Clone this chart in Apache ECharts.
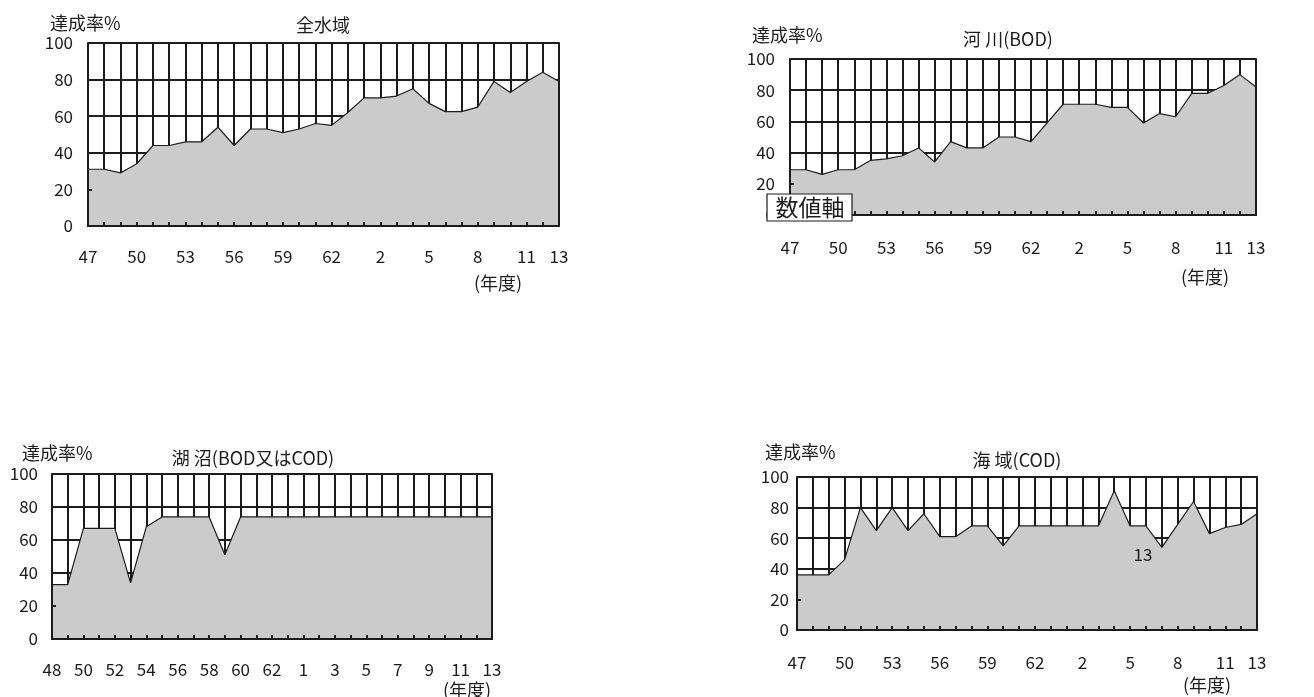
<!DOCTYPE html>
<html><head><meta charset="utf-8">
<script src="https://cdn.jsdelivr.net/npm/echarts@6/dist/echarts.min.js"></script>
<style>html,body{margin:0;padding:0;background:#fff;}#c{width:1314px;height:697px;}</style>
</head><body><div id="c"></div>
<script>
// Categories (fiscal years: Showa 47..63, Heisei 1..13)
const yearsFrom47 = ['47','48','49','50','51','52','53','54','55','56','57','58','59','60','61','62','63','1','2','3','4','5','6','7','8','9','10','11','12','13'];
const yearsFrom48 = ['48','49','50','51','52','53','54','55','56','57','58','59','60','61','62','63','1','2','3','4','5','6','7','8','9','10','11','12','13'];
// Achievement rate (%)
const allWaters = [31,31,29,34,44,44,46,46,54,44,53,53,51,53,56,55,62,70,70,71,75,67,62.5,62.5,65,79,73,79,84,79];
const rivers    = [29,29,26,29,29,35,36,38,43,34,47,43,43,50,50,47,59,71,71,71,69,69,59,65,63,78,78,83,90,82];
const lakes     = [33,33,67,67,67,34,68,74,74,74,74,51,74,74,74,74,74,74,74,74,74,74,74,74,74,74,74,74,74];
const sea       = [36,36,36,46,80,65,80,65,76,61,61,68,68,55,68,68,68,68,68,68,91,68,68,54,69,84,63,67,69,76];
const yTicks = [0,20,40,60,80,100];
const titles = ['全水域','河 川(BOD)','湖 沼(BOD又はCOD)','海 域(COD)'];

const INK = '#1c1c1c';
const FONT = '"Noto Sans CJK JP", "Noto Sans", sans-serif';
const panels = [
  {cats: yearsFrom47, data: allWaters, grid:{left:88, top:43, width:471, height:183}, step:3, xm:22, ym:15,
   unit:[50,23], title:[323,25], nendo:[498,283]},
  {cats: yearsFrom47, data: rivers, grid:{left:790, top:59, width:466, height:156}, step:3, xm:24, ym:15,
   unit:[752,35], title:[1008,39], nendo:[1205,277]},
  {cats: yearsFrom48, data: lakes, grid:{left:52, top:474, width:440, height:165}, step:2, xm:22, ym:14,
   unit:[22,453], title:[253,458], nendo:[467,690]},
  {cats: yearsFrom47, data: sea, grid:{left:797, top:477, width:460, height:153}, step:3, xm:24, ym:8,
   unit:[765,452], title:[1017,460], nendo:[1207,685]}
];

const grid=[], xAxis=[], yAxis=[], series=[], graphic=[];
panels.forEach((p,i)=>{
  grid.push(Object.assign({containLabel:false}, p.grid));
  const last = p.cats.length-1;
  // grid lines (below the area)
  xAxis.push({type:'category', gridIndex:i, position:'bottom', data:p.cats, boundaryGap:false, z:0,
    axisLine:{show:false}, axisTick:{show:false}, axisLabel:{show:false},
    splitLine:{show:true, interval:0, lineStyle:{color:INK, width:2}}});
  // axis line, inside ticks and labels (above the area)
  xAxis.push({type:'category', gridIndex:i, position:'bottom', offset:0, data:p.cats, boundaryGap:false, z:5,
    axisLine:{show:true, onZero:false, lineStyle:{color:INK, width:2}},
    axisTick:{show:true, inside:true, length:4, interval:0, lineStyle:{color:INK, width:2}},
    axisLabel:{show:true, interval:(idx)=> idx%p.step===0 || idx===last, margin:p.xm,
      color:INK, fontSize:17, fontFamily:FONT},
    splitLine:{show:false}});
  yAxis.push({type:'value', gridIndex:i, position:'left', min:yTicks[0], max:yTicks[yTicks.length-1], interval:20, z:0,
    axisLine:{show:false}, axisTick:{show:false}, axisLabel:{show:false},
    splitLine:{show:true, lineStyle:{color:INK, width:2}}});
  yAxis.push({type:'value', gridIndex:i, min:yTicks[0], max:yTicks[yTicks.length-1], interval:20, z:5, position:'left', offset:0,
    axisLine:{show:true, onZero:false, lineStyle:{color:INK, width:2}},
    axisTick:{show:true, inside:true, length:4, lineStyle:{color:INK, width:2}},
    axisLabel:{show:true, margin:p.ym, color:INK, fontSize:17, fontFamily:FONT},
    splitLine:{show:false}});
  yAxis.push({type:'value', gridIndex:i, min:yTicks[0], max:yTicks[yTicks.length-1], interval:20, z:5, position:'right', offset:0,
    axisLine:{show:true, onZero:false, lineStyle:{color:INK, width:2}},
    axisTick:{show:false}, axisLabel:{show:false}, splitLine:{show:false}});
  series.push({type:'line', xAxisIndex:2*i, yAxisIndex:3*i, data:p.data, showSymbol:false, z:2,
    lineStyle:{color:INK, width:1.2}, areaStyle:{color:'#cbcbcb', opacity:1}, animation:false});
  graphic.push({type:'text', x:p.unit[0], y:p.unit[1], z:10,
    style:{text:'達成率%', font:'18px '+FONT, fill:INK, align:'left', verticalAlign:'middle'}});
  graphic.push({type:'text', x:p.title[0], y:p.title[1], z:10,
    style:{text:titles[i], font:'18px '+FONT, fill:INK, align:'center', verticalAlign:'middle'}});
  graphic.push({type:'text', x:p.nendo[0], y:p.nendo[1], z:10,
    style:{text:'(年度)', font:'18px '+FONT, fill:INK, align:'center', verticalAlign:'middle'}});
});
// stray data label in the sea panel
graphic.push({type:'text', x:1143, y:555, z:10,
  style:{text:'13', font:'17px '+FONT, fill:INK, align:'center', verticalAlign:'middle'}});
// "数値軸" tooltip box in the river panel
graphic.push({type:'rect', x:767, y:194, z:100, shape:{x:0,y:0,width:85,height:27},
  style:{fill:'#fff', stroke:INK, lineWidth:1.2}});
graphic.push({type:'text', x:810, y:207, z:101,
  style:{text:'数値軸', font:'23px '+FONT, fill:INK, align:'center', verticalAlign:'middle'}});

const chart = echarts.init(document.getElementById('c'), null, {renderer:'canvas'});
chart.setOption({animation:false, backgroundColor:'#fff', grid, xAxis, yAxis, series, graphic});
</script></body></html>
